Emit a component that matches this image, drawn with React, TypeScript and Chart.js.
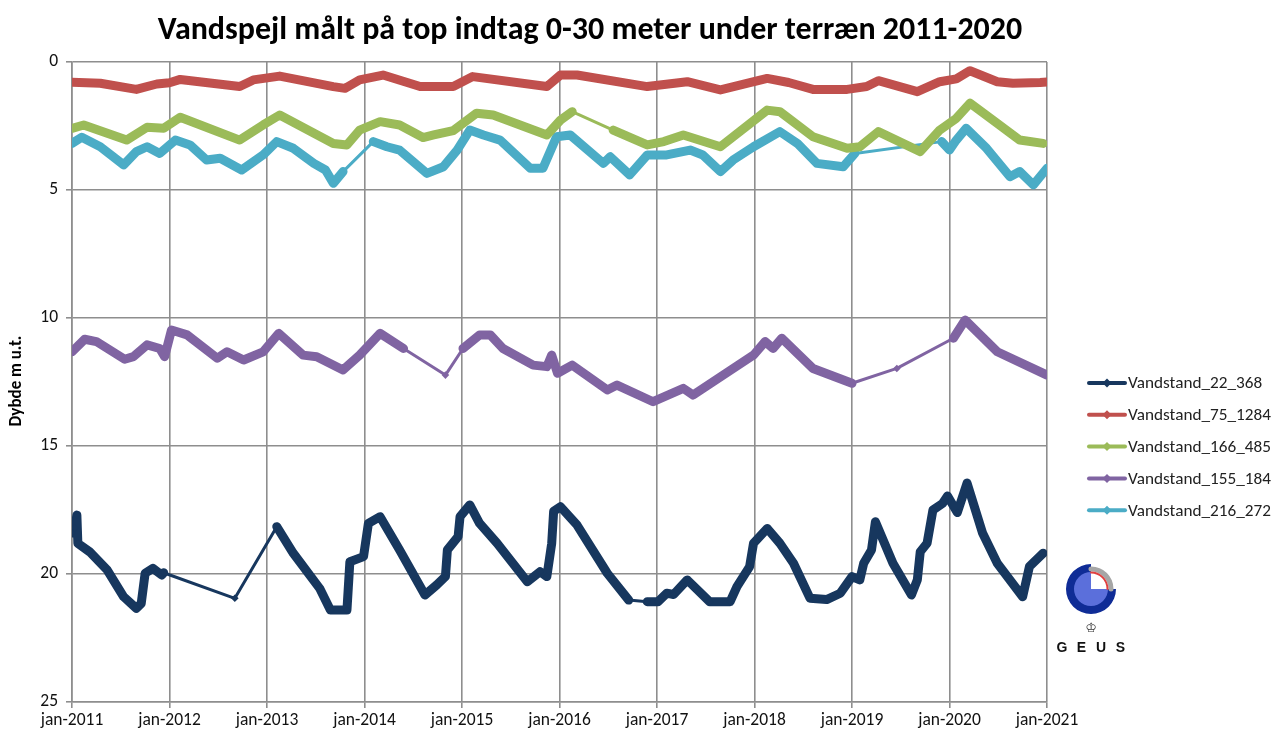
import React, { useEffect, useRef } from 'react';
import { Chart, registerables } from 'chart.js';

Chart.register(...registerables);

const chartTitle = 'Vandspejl målt på top indtag 0-30 meter under terræn 2011-2020';
const yAxisTitle = 'Dybde m u.t.';
const seriesNames = ['Vandstand_22_368', 'Vandstand_75_1284', 'Vandstand_166_485', 'Vandstand_155_184', 'Vandstand_216_272'];
const yearTicks = [2011, 2012, 2013, 2014, 2015, 2016, 2017, 2018, 2019, 2020, 2021];
const depthTicks = [0, 5, 10, 15, 20, 25];

// Vandstand_22_368 (decimal year, depth m u.t.)
const dates22 = [2011.00, 2011.03, 2011.05, 2011.06, 2011.18, 2011.36, 2011.53, 2011.66, 2011.71, 2011.75, 2011.83, 2011.92, 2011.94, 2012.67, 2013.10, 2013.27, 2013.54, 2013.65, 2013.82, 2013.85, 2013.99, 2014.04, 2014.16, 2014.36, 2014.62, 2014.74, 2014.83, 2014.85, 2014.96, 2014.98, 2015.08, 2015.18, 2015.36, 2015.67, 2015.80, 2015.87, 2015.92, 2015.94, 2016.01, 2016.18, 2016.49, 2016.71, 2016.90, 2017.01, 2017.10, 2017.17, 2017.31, 2017.54, 2017.75, 2017.82, 2017.95, 2017.99, 2018.13, 2018.26, 2018.40, 2018.57, 2018.74, 2018.88, 2019.00, 2019.08, 2019.12, 2019.20, 2019.24, 2019.42, 2019.61, 2019.67, 2019.70, 2019.77, 2019.83, 2019.93, 2019.98, 2020.08, 2020.18, 2020.34, 2020.49, 2020.75, 2020.82, 2020.96];
const depth22 = [18.4, 18.2, 17.7, 18.8, 19.13, 19.84, 20.89, 21.34, 21.15, 19.97, 19.78, 20.04, 19.95, 20.95, 18.15, 19.19, 20.56, 21.41, 21.41, 19.52, 19.32, 18.02, 17.76, 19.06, 20.82, 20.43, 20.1, 19.06, 18.54, 17.76, 17.30, 18.02, 18.80, 20.30, 19.91, 20.1, 18.80, 17.55, 17.37, 18.09, 19.97, 21.02, 21.08, 21.08, 20.75, 20.8, 20.23, 21.08, 21.08, 20.49, 19.71, 18.80, 18.22, 18.80, 19.58, 20.95, 21.0, 20.75, 20.10, 20.23, 19.58, 19.06, 17.96, 19.58, 20.82, 20.23, 19.13, 18.80, 17.5, 17.24, 16.95, 17.6, 16.45, 18.41, 19.58, 20.89, 19.71, 19.19];
const gaps22 = [2011.94, 2012.67, 2016.71];

// Vandstand_75_1284
const dates75 = [2011.00, 2011.29, 2011.66, 2011.87, 2012.00, 2012.11, 2012.72, 2012.86, 2013.13, 2013.68, 2013.80, 2013.95, 2014.19, 2014.57, 2014.91, 2015.11, 2015.87, 2016.01, 2016.18, 2016.90, 2017.31, 2017.65, 2018.13, 2018.35, 2018.60, 2018.95, 2019.15, 2019.27, 2019.67, 2019.90, 2020.07, 2020.21, 2020.49, 2020.65, 2020.93, 2021.00];
const depth75 = [0.79, 0.83, 1.07, 0.86, 0.81, 0.68, 0.96, 0.70, 0.55, 0.96, 1.03, 0.70, 0.51, 0.96, 0.96, 0.57, 0.96, 0.51, 0.51, 0.96, 0.77, 1.09, 0.64, 0.80, 1.07, 1.07, 0.96, 0.73, 1.16, 0.77, 0.66, 0.34, 0.77, 0.83, 0.80, 0.78];
const gaps75: number[] = [];

// Vandstand_166_485
const dates166 = [2011.00, 2011.12, 2011.56, 2011.77, 2011.94, 2012.11, 2012.72, 2012.96, 2013.13, 2013.68, 2013.82, 2013.95, 2014.16, 2014.36, 2014.60, 2014.71, 2014.91, 2015.15, 2015.32, 2015.87, 2016.01, 2016.13, 2016.55, 2016.90, 2017.07, 2017.27, 2017.65, 2018.13, 2018.26, 2018.60, 2018.95, 2019.08, 2019.27, 2019.70, 2019.90, 2020.07, 2020.21, 2020.49, 2020.72, 2020.96];
const depth166 = [2.59, 2.46, 3.05, 2.55, 2.59, 2.16, 3.05, 2.46, 2.07, 3.18, 3.24, 2.66, 2.33, 2.46, 2.95, 2.85, 2.68, 2.0, 2.07, 2.85, 2.27, 1.94, 2.66, 3.24, 3.11, 2.85, 3.31, 1.88, 1.94, 2.92, 3.37, 3.31, 2.72, 3.50, 2.66, 2.20, 1.61, 2.40, 3.05, 3.18];
const gaps166 = [2016.13];

// Vandstand_155_184
const dates155 = [2011.00, 2011.13, 2011.25, 2011.54, 2011.63, 2011.77, 2011.90, 2011.95, 2012.02, 2012.18, 2012.49, 2012.59, 2012.76, 2012.96, 2013.12, 2013.37, 2013.51, 2013.78, 2013.95, 2014.16, 2014.40, 2014.83, 2015.01, 2015.18, 2015.29, 2015.42, 2015.73, 2015.87, 2015.92, 2015.98, 2016.13, 2016.49, 2016.59, 2016.96, 2017.27, 2017.37, 2017.99, 2018.11, 2018.19, 2018.28, 2018.60, 2019.00, 2019.46, 2020.04, 2020.16, 2020.49, 2021.00];
const depth155 = [11.32, 10.83, 10.92, 11.61, 11.51, 11.05, 11.19, 11.51, 10.47, 10.66, 11.57, 11.32, 11.64, 11.32, 10.60, 11.45, 11.51, 12.03, 11.45, 10.60, 11.19, 12.23, 11.19, 10.66, 10.66, 11.19, 11.84, 11.9, 11.45, 12.16, 11.84, 12.81, 12.62, 13.27, 12.75, 13.01, 11.45, 10.92, 11.19, 10.79, 11.97, 12.55, 11.97, 10.79, 10.08, 11.32, 12.23];
const gaps155 = [2014.40, 2014.83, 2019.00, 2019.46];

// Vandstand_216_272
const dates216 = [2011.00, 2011.10, 2011.29, 2011.53, 2011.66, 2011.77, 2011.90, 2012.06, 2012.21, 2012.38, 2012.52, 2012.74, 2012.96, 2013.10, 2013.27, 2013.48, 2013.60, 2013.68, 2013.78, 2014.09, 2014.23, 2014.36, 2014.64, 2014.81, 2014.95, 2015.08, 2015.22, 2015.39, 2015.70, 2015.83, 2015.97, 2016.11, 2016.45, 2016.52, 2016.72, 2016.90, 2017.10, 2017.34, 2017.47, 2017.65, 2017.78, 2017.99, 2018.26, 2018.44, 2018.64, 2018.91, 2019.03, 2019.92, 2020.00, 2020.07, 2020.17, 2020.38, 2020.62, 2020.72, 2020.86, 2021.00];
const depth216 = [3.18, 2.94, 3.31, 4.02, 3.50, 3.31, 3.57, 3.05, 3.24, 3.83, 3.76, 4.22, 3.63, 3.11, 3.37, 3.96, 4.22, 4.74, 4.28, 3.11, 3.31, 3.44, 4.35, 4.09, 3.44, 2.66, 2.85, 3.05, 4.15, 4.15, 2.92, 2.85, 3.96, 3.70, 4.41, 3.63, 3.63, 3.44, 3.63, 4.28, 3.83, 3.31, 2.72, 3.18, 3.96, 4.09, 3.57, 3.11, 3.44, 3.05, 2.59, 3.37, 4.48, 4.28, 4.80, 4.15];
const gaps216 = [2013.78, 2019.03];

const seriesDates = [dates22, dates75, dates166, dates155, dates216];
const seriesDepths = [depth22, depth75, depth166, depth155, depth216];
const seriesGaps = [gaps22, gaps75, gaps166, gaps155, gaps216];
const seriesColors = ['#17375E', '#C0504D', '#9BBB59', '#8064A2', '#4BACC6'];

const FONT = 'Carlito, Calibri, Lato, "Open Sans", sans-serif';
const GRID = '#8E8E8E';

function fitFont(ctx: CanvasRenderingContext2D, text: string, weight: string, base: number, target: number, maxSize: number) {
  ctx.font = `${weight} ${base}px ${FONT}`;
  const w = ctx.measureText(text).width;
  const size = Math.min(maxSize, (base * target) / w);
  ctx.font = `${weight} ${size}px ${FONT}`;
  return size;
}

const overlayPlugin = {
  id: 'overlay',
  afterDraw(chart: any) {
    const ctx = chart.ctx as CanvasRenderingContext2D;
    ctx.save();
    // title
    fitFont(ctx, chartTitle, 'bold', 30, 865, 32);
    ctx.fillStyle = '#000';
    ctx.textAlign = 'center';
    ctx.textBaseline = 'middle';
    ctx.fillText(chartTitle, 590, 31);

    // y axis title
    ctx.save();
    ctx.translate(17, 381);
    ctx.rotate(-Math.PI / 2);
    fitFont(ctx, yAxisTitle, 'bold', 16, 100, 17);
    ctx.fillStyle = '#000';
    ctx.textAlign = 'center';
    ctx.textBaseline = 'middle';
    ctx.fillText(yAxisTitle, 0, 0);
    ctx.restore();

    // legend
    chart.data.datasets.forEach((ds: any, i: number) => {
      const y = 383 + i * 31.8;
      ctx.strokeStyle = ds.borderColor;
      ctx.lineWidth = 4;
      ctx.lineCap = 'round';
      ctx.beginPath();
      ctx.moveTo(1089, y);
      ctx.lineTo(1125, y);
      ctx.stroke();
      ctx.fillStyle = ds.borderColor;
      ctx.beginPath();
      ctx.moveTo(1107, y - 4.5);
      ctx.lineTo(1111.5, y);
      ctx.lineTo(1107, y + 4.5);
      ctx.lineTo(1102.5, y);
      ctx.closePath();
      ctx.fill();
    });
    fitFont(ctx, seriesNames[1], 'normal', 19, 143, 19);
    chart.data.datasets.forEach((ds: any, i: number) => {
      const y = 383 + i * 31.8;
      ctx.fillStyle = '#222';
      ctx.textAlign = 'left';
      ctx.textBaseline = 'middle';
      ctx.fillText(ds.label, 1128, y + 1);
    });

    // GEUS logo
    const cx = 1091, cy = 589;
    ctx.fillStyle = '#0F2C96';
    ctx.beginPath();
    ctx.moveTo(cx, cy);
    ctx.arc(cx, cy, 25, 0, 1.5 * Math.PI);
    ctx.closePath();
    ctx.fill();
    ctx.fillStyle = '#5B6FDB';
    ctx.beginPath();
    ctx.moveTo(cx, cy);
    ctx.arc(cx, cy, 17, 0, 1.5 * Math.PI);
    ctx.closePath();
    ctx.fill();
    ctx.strokeStyle = '#A6A6A6';
    ctx.lineWidth = 5;
    ctx.beginPath();
    ctx.arc(cx, cy, 20, 1.5 * Math.PI, 2 * Math.PI);
    ctx.stroke();
    ctx.strokeStyle = '#E04040';
    ctx.lineWidth = 2;
    ctx.beginPath();
    ctx.arc(cx, cy, 16.5, 1.5 * Math.PI, 2 * Math.PI);
    ctx.stroke();
    ctx.fillStyle = '#333';
    ctx.textAlign = 'center';
    ctx.font = `13px "DejaVu Sans", sans-serif`;
    ctx.fillText('♔', cx, 629);
    ctx.font = `bold 14px "Liberation Sans", Arial, sans-serif`;
    ctx.fillStyle = '#111';
    const letters = ['G', 'E', 'U', 'S'];
    letters.forEach((l, i) => ctx.fillText(l, 1062 + i * 19.5, 648));
    ctx.restore();
  },
};

export default function App() {
  const ref = useRef<HTMLCanvasElement | null>(null);
  useEffect(() => {
    if (!ref.current) return;
    Chart.defaults.font.family = FONT;
    const datasets = seriesNames.map((name, i) => {
      const gapSet = new Set(seriesGaps[i]);
      return {
        label: name,
        data: seriesDates[i].map((d, k) => ({ x: d, y: seriesDepths[i][k] })),
        borderColor: seriesColors[i],
        backgroundColor: seriesColors[i],
        borderWidth: 9,
        borderJoinStyle: 'round' as const,
        borderCapStyle: 'round' as const,
        pointStyle: 'rectRot' as const,
        pointRadius: 3.8,
        pointBorderWidth: 0,
        pointBackgroundColor: seriesColors[i],
        tension: 0,
        segment: {
          borderWidth: (c: any) => (gapSet.has(c.p0.parsed.x) ? 3 : 9),
        },
      };
    });
    const chart = new Chart(ref.current, {
      type: 'line',
      data: { datasets },
      options: {
        responsive: false,
        animation: false,
        events: [],
        layout: { padding: { top: 62, right: 232, left: 0, bottom: 0 } },
        plugins: { legend: { display: false }, title: { display: false }, tooltip: { enabled: false } },
        scales: {
          x: {
            type: 'linear',
            min: yearTicks[0],
            max: yearTicks[yearTicks.length - 1],
            afterBuildTicks: (s: any) => { s.ticks = yearTicks.map((v) => ({ value: v })); },
            ticks: {
              callback: (v: any) => 'jan-' + v,
              color: '#111',
              font: { size: 17.5, family: FONT },
              padding: 2,
              maxRotation: 0,
              autoSkip: false,
            },
            grid: { color: GRID, lineWidth: 1.6, tickLength: 6, tickColor: GRID },
            border: { color: GRID, width: 1.6 },
            afterFit: (s: any) => { s.height = 33; s.paddingLeft = 0; s.paddingRight = 0; },
          },
          y: {
            type: 'linear',
            reverse: true,
            min: depthTicks[0],
            max: depthTicks[depthTicks.length - 1],
            afterBuildTicks: (s: any) => { s.ticks = depthTicks.map((v) => ({ value: v })); },
            ticks: {
              color: '#111',
              font: { size: 17.5, family: FONT },
              padding: 8,
            },
            grid: { color: GRID, lineWidth: 1.6, tickLength: 6, tickColor: GRID },
            border: { color: GRID, width: 1.6 },
            afterFit: (s: any) => { s.width = 72; s.paddingTop = 0; s.paddingBottom = 0; },
          },
        },
      } as any,
      plugins: [overlayPlugin],
    });
    return () => chart.destroy();
  }, []);
  return (
    <div style={{ position: 'absolute', left: 0, top: 0, width: 1279, height: 735, background: '#fff' }}>
      <canvas ref={ref} width={1279} height={735} style={{ width: 1279, height: 735, display: 'block' }} />
    </div>
  );
}
